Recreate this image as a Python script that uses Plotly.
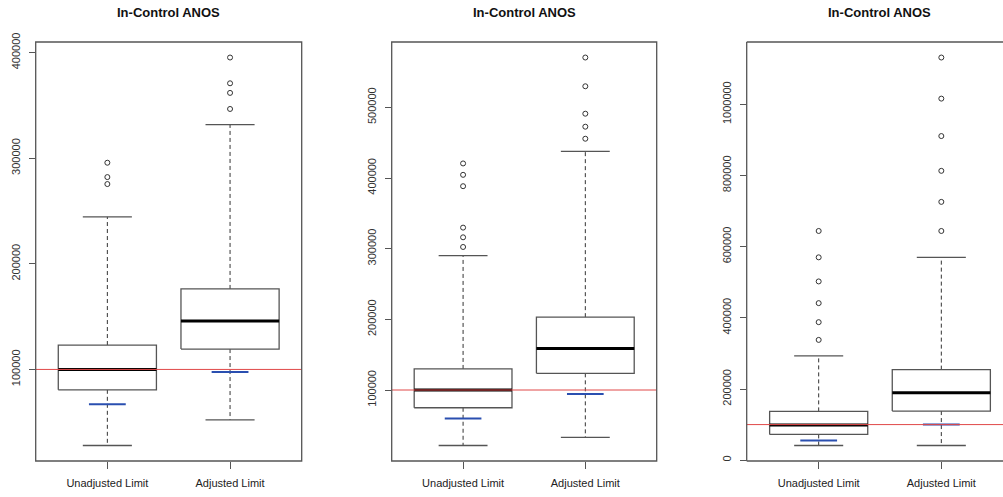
import plotly.graph_objects as go

categories = ["Unadjusted Limit", "Adjusted Limit"]
title_text = "In-Control ANOS"
reference_value = 100000

# Panel 1
p1_lower = [28000, 52300]
p1_q1 = [80700, 119300]
p1_median = [100000, 145800]
p1_q3 = [123100, 176200]
p1_upper = [244500, 331700]
p1_outliers = [[275500, 282100, 295700], [346600, 361800, 370900, 395300]]
p1_blue = [67100, 97500]
p1_ticks = [100000, 200000, 300000, 400000]

# Panel 2
p2_lower = [21500, 32900]
p2_q1 = [74900, 123600]
p2_median = [100000, 158600]
p2_q3 = [129800, 203100]
p2_upper = [290100, 437600]
p2_outliers = [[302400, 316100, 329800, 388400, 404500, 420600],
               [455600, 472600, 491000, 529800, 570500]]
p2_blue = [59800, 94300]
p2_ticks = [100000, 200000, 300000, 400000, 500000]

# Panel 3
p3_lower = [41300, 41300]
p3_q1 = [72300, 138000]
p3_median = [99000, 189700]
p3_q3 = [137100, 254500]
p3_upper = [293000, 570000]
p3_outliers = [[338000, 387800, 441300, 502300, 570000, 644100],
               [644100, 725800, 813100, 910800, 1016000, 1131500]]
p3_blue = [55400, 100500]
p3_ticks = [0, 200000, 400000, 600000, 800000, 1000000]

panels = [
    dict(lower=p1_lower, q1=p1_q1, med=p1_median, q3=p1_q3, upper=p1_upper,
         out=p1_outliers, blue=p1_blue, ticks=p1_ticks),
    dict(lower=p2_lower, q1=p2_q1, med=p2_median, q3=p2_q3, upper=p2_upper,
         out=p2_outliers, blue=p2_blue, ticks=p2_ticks),
    dict(lower=p3_lower, q1=p3_q1, med=p3_median, q3=p3_q3, upper=p3_upper,
         out=p3_outliers, blue=p3_blue, ticks=p3_ticks),
]

W, H = 1003, 497
x_domains = [[35.7 / W, 301.7 / W], [391.7 / W, 656.7 / W], [746.7 / W, 1.0]]
x_ranges = [[0.416, 2.584], [0.416, 2.584], [0.413, 2.503]]
y_domain = [1 - 461 / H, 1 - 42 / H]

BOX_HALF = 0.4
STAPLE_HALF = 0.2
BLUE_HALF = 0.15
EDGE = "#555555"
FONT = "Liberation Sans, Arial, sans-serif"

fig = go.Figure()
layout = dict(template="none", width=W, height=H, margin=dict(l=0, r=0, t=0, b=0, pad=0),
              paper_bgcolor="white", plot_bgcolor="white", showlegend=False)
shapes = []
annotations = []

for i, p in enumerate(panels):
    n = i + 1
    xa = "x" if n == 1 else f"x{n}"
    ya = "y" if n == 1 else f"y{n}"
    for j in range(len(categories)):
        c = j + 1
        # whiskers (dashed)
        fig.add_trace(go.Scatter(x=[c, c], y=[p["q3"][j], p["upper"][j]], mode="lines",
                                 line=dict(color="#333", width=1, dash="4px,3px"),
                                 xaxis=xa, yaxis=ya, hoverinfo="skip"))
        fig.add_trace(go.Scatter(x=[c, c], y=[p["q1"][j], p["lower"][j]], mode="lines",
                                 line=dict(color="#333", width=1, dash="4px,3px"),
                                 xaxis=xa, yaxis=ya, hoverinfo="skip"))
        # staples
        for v in (p["upper"][j], p["lower"][j]):
            fig.add_trace(go.Scatter(x=[c - STAPLE_HALF, c + STAPLE_HALF], y=[v, v], mode="lines",
                                     line=dict(color=EDGE, width=1.3),
                                     xaxis=xa, yaxis=ya, hoverinfo="skip"))
        # box
        fig.add_trace(go.Scatter(
            x=[c - BOX_HALF, c + BOX_HALF, c + BOX_HALF, c - BOX_HALF, c - BOX_HALF],
            y=[p["q1"][j], p["q1"][j], p["q3"][j], p["q3"][j], p["q1"][j]],
            mode="lines", line=dict(color=EDGE, width=1.3), fill="toself", fillcolor="white",
            xaxis=xa, yaxis=ya, hoverinfo="skip"))
        # median
        fig.add_trace(go.Scatter(x=[c - BOX_HALF, c + BOX_HALF], y=[p["med"][j], p["med"][j]],
                                 mode="lines", line=dict(color="black", width=3),
                                 xaxis=xa, yaxis=ya, hoverinfo="skip"))
        # outliers
        fig.add_trace(go.Scatter(x=[c] * len(p["out"][j]), y=p["out"][j], mode="markers",
                                 marker=dict(symbol="circle-open", size=5, color="#333",
                                             line=dict(width=1)),
                                 xaxis=xa, yaxis=ya, hoverinfo="skip"))
        # blue segment
        fig.add_trace(go.Scatter(x=[c - BLUE_HALF, c + BLUE_HALF], y=[p["blue"][j], p["blue"][j]],
                                 mode="lines", line=dict(color="#2a4fb0", width=2),
                                 xaxis=xa, yaxis=ya, hoverinfo="skip"))

    # y range like R (4% extension of data range)
    allv = p["lower"] + p["upper"] + [v for o in p["out"] for v in o]
    lo, hi = min(allv), max(allv)
    pad = 0.04 * (hi - lo)

    key_x = "xaxis" if n == 1 else f"xaxis{n}"
    key_y = "yaxis" if n == 1 else f"yaxis{n}"
    layout[key_x] = dict(domain=x_domains[i], range=x_ranges[i], anchor=ya, automargin=False,
                         tickvals=[1, 2], ticktext=categories, ticks="outside", ticklen=7,
                         tickcolor=EDGE, showgrid=False, zeroline=False, showline=False,
                         tickfont=dict(family=FONT, size=11, color="#222"),
                         ticklabelstandoff=5, fixedrange=True)
    layout[key_y] = dict(domain=y_domain, range=[lo - pad, hi + pad], anchor=xa, automargin=False,
                         tickvals=p["ticks"], ticktext=[str(t) for t in p["ticks"]],
                         ticks="outside", ticklen=6, tickcolor=EDGE, tickangle=-90,
                         showgrid=False, zeroline=False, showline=False,
                         tickfont=dict(family=FONT, size=11, color="#333"),
                         ticklabelstandoff=4, fixedrange=True)

    # reference line
    shapes.append(dict(type="line", xref=f"{xa} domain", yref=ya, x0=0, x1=1,
                       y0=reference_value, y1=reference_value,
                       line=dict(color="#e04848", width=1), layer="above"))
    # frame
    xr = f"{xa} domain"
    yr = f"{ya} domain"
    if n < 3:
        shapes.append(dict(type="rect", xref=xr, yref=yr, x0=0, x1=1, y0=0, y1=1,
                           line=dict(color=EDGE, width=1.3), layer="above"))
    else:
        for (x0, y0, x1, y1) in [(0, 0, 0, 1), (0, 1, 1, 1), (0, 0, 1, 0)]:
            shapes.append(dict(type="line", xref=xr, yref=yr, x0=x0, y0=y0, x1=x1, y1=y1,
                               line=dict(color=EDGE, width=1.3), layer="above"))
    # title
    cx = (x_domains[i][0] + x_domains[i][1]) / 2 if n < 3 else (746.7 + 1012) / 2 / W
    annotations.append(dict(text=f"<b>{title_text}</b>", xref="paper", yref="paper",
                            x=cx, y=1 - 12 / H, xanchor="center", yanchor="middle",
                            showarrow=False,
                            font=dict(family=FONT, size=13, color="#111")))

layout["shapes"] = shapes
layout["annotations"] = annotations
fig.update_layout(**layout)
fig.write_html("out.html", config={"displayModeBar": False, "staticPlot": True},
               post_script="document.body.style.margin='0';")
